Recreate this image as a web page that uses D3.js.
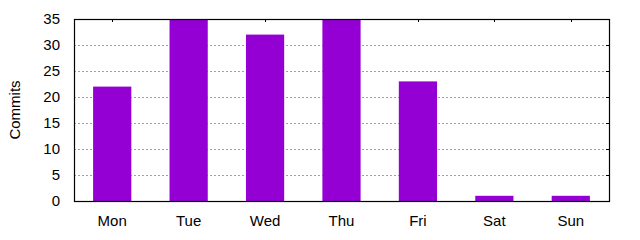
<!DOCTYPE html>
<html>
<head>
<meta charset="utf-8">
<script src="https://cdn.jsdelivr.net/npm/d3@7"></script>
<style>
  body { margin: 0; background: #fff; }
  svg text { font-family: "Liberation Sans", Arial, sans-serif; font-size: 15px; fill: #000; }
</style>
</head>
<body>
<div id="chart"></div>
<script>
// Chart data
var days = ["Mon", "Tue", "Wed", "Thu", "Fri", "Sat", "Sun"];
var commits = [22, 35, 32, 35, 23, 1, 1];
var yTicks = [0, 5, 10, 15, 20, 25, 30, 35];

var margin = {top: 19, right: 31, bottom: 39, left: 74},
    width = 640 - margin.left - margin.right,
    height = 240 - margin.top - margin.bottom;

var x = d3.scaleBand().domain(days).range([0, width]).paddingInner(0.5).paddingOuter(0.25);
var y = d3.scaleLinear().domain([0, 35]).range([height, 0]);

var svg = d3.select("#chart").append("svg")
    .attr("width", 640)
    .attr("height", 240)
    .append("g")
    .attr("transform", "translate(" + margin.left + "," + margin.top + ")");

// grid lines
svg.append("g")
    .selectAll("line")
    .data(yTicks.filter(function(d) { return d > 0 && d < 35; }))
    .enter().append("line")
    .attr("x1", 0)
    .attr("x2", width)
    .attr("y1", function(d) { return y(d) + 0.5; })
    .attr("y2", function(d) { return y(d) + 0.5; })
    .attr("stroke", "#a0a0a0")
    .attr("stroke-width", 1)
    .attr("stroke-dasharray", "2,2");

// inward ticks on top and right
svg.append("g").selectAll("line")
    .data(days)
    .enter().append("line")
    .attr("x1", function(d) { return Math.round(x(d) + x.bandwidth() / 2) + 0.5; })
    .attr("x2", function(d) { return Math.round(x(d) + x.bandwidth() / 2) + 0.5; })
    .attr("y1", 0)
    .attr("y2", 3)
    .attr("stroke", "#000");

svg.append("g").selectAll("line")
    .data(yTicks)
    .enter().append("line")
    .attr("x1", width - 3)
    .attr("x2", width)
    .attr("y1", function(d) { return y(d) + 0.5; })
    .attr("y2", function(d) { return y(d) + 0.5; })
    .attr("stroke", "#000");

// bars
svg.selectAll(".bar")
    .data(commits)
    .enter().append("rect")
    .attr("class", "bar")
    .attr("x", function(d, i) { return x(days[i]); })
    .attr("width", x.bandwidth())
    .attr("y", function(d) { return y(d); })
    .attr("height", function(d) { return height - y(d); })
    .attr("fill", "#9400d3");

// axes
var yAxis = svg.append("g")
    .call(d3.axisLeft(y).tickValues(yTicks).tickSize(0).tickPadding(14));
yAxis.select(".domain").remove();

var xAxis = svg.append("g")
    .attr("transform", "translate(0," + height + ")")
    .call(d3.axisBottom(x).tickSize(0).tickPadding(14));
xAxis.select(".domain").remove();

svg.selectAll(".tick text")
    .style("font-family", "'Liberation Sans', Arial, sans-serif")
    .style("font-size", "15px")
    .attr("fill", "#000");

// border
svg.append("rect")
    .attr("x", 0.5)
    .attr("y", 0.5)
    .attr("width", width)
    .attr("height", height)
    .attr("fill", "none")
    .attr("stroke", "#000")
    .attr("stroke-width", 1.2);

// y label
svg.append("text")
    .attr("transform", "rotate(-90)")
    .attr("x", -height / 2)
    .attr("y", -margin.left + 20)
    .attr("text-anchor", "middle")
    .text("Commits");
</script>
</body>
</html>
